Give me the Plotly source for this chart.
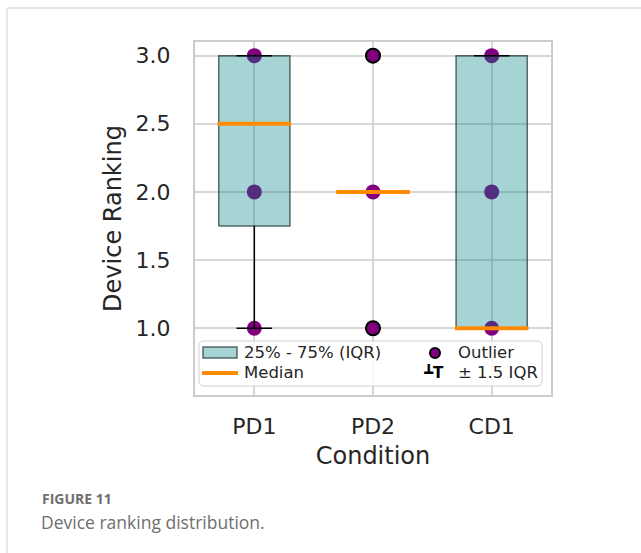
import plotly.graph_objects as go

# data
conditions = ["PD1", "PD2", "CD1"]
q1 = [1.75, 2.0, 1.0]
medians = [2.5, 2.0, 1.0]
q3 = [3.0, 2.0, 3.0]
whisker_low = [1.0, 2.0, 1.0]
whisker_high = [3.0, 2.0, 3.0]
responses = [[1, 2, 3], [1, 2, 3], [1, 2, 3]]
outliers = [[], [1, 3], []]
y_ticks = [1.0, 1.5, 2.0, 2.5, 3.0]

# plot area in pixels
L, R, T, B = 195, 551, 42, 395
W, H = 641, 553


def px_x(x):
    return (x - L) / (R - L)


def px_y(y):
    return (B - y) / (B - T)


xs = list(range(len(conditions)))
box_w = 0.6
cap_w = 0.3
med_w = 0.62

fig = go.Figure()

# individual responses (under the boxes)
px_, py_ = [], []
for i, vals in enumerate(responses):
    for v in vals:
        px_.append(i)
        py_.append(v)
fig.add_trace(go.Scatter(x=px_, y=py_, mode="markers",
                         marker=dict(color="#800080", size=15, line=dict(width=0)),
                         showlegend=False, hoverinfo="skip"))

# IQR boxes, drawn as filled polygons so they sit above the points
for i in xs:
    if q3[i] == q1[i]:
        continue
    a, b = i - box_w / 2, i + box_w / 2
    fig.add_trace(go.Scatter(x=[a, b, b, a, a], y=[q1[i], q1[i], q3[i], q3[i], q1[i]],
                             mode="lines", fill="toself",
                             fillcolor="rgba(0,128,128,0.35)",
                             line=dict(color="rgba(40,60,60,0.75)", width=1.5),
                             showlegend=False, hoverinfo="skip"))

# whiskers
wx, wy = [], []
for i in xs:
    wx += [i, i, None, i, i, None]
    wy += [q1[i], whisker_low[i], None, q3[i], whisker_high[i], None]
fig.add_trace(go.Scatter(x=wx, y=wy, mode="lines", line=dict(color="black", width=1.5),
                         showlegend=False, hoverinfo="skip"))

# caps
cx, cy = [], []
for i in xs:
    for v in (whisker_low[i], whisker_high[i]):
        cx += [i - cap_w / 2, i + cap_w / 2, None]
        cy += [v, v, None]
fig.add_trace(go.Scatter(x=cx, y=cy, mode="lines", line=dict(color="black", width=1.5),
                         showlegend=False, hoverinfo="skip"))

# medians
mx, my = [], []
for i in xs:
    mx += [i - med_w / 2, i + med_w / 2, None]
    my += [medians[i], medians[i], None]
fig.add_trace(go.Scatter(x=mx, y=my, mode="lines", line=dict(color="#ff8c00", width=4),
                         showlegend=False, hoverinfo="skip"))

# outliers
ox, oy = [], []
for i, vals in enumerate(outliers):
    for v in vals:
        ox.append(i)
        oy.append(v)
fig.add_trace(go.Scatter(x=ox, y=oy, mode="markers",
                         marker=dict(color="#800080", size=14, line=dict(color="black", width=2)),
                         showlegend=False, hoverinfo="skip"))

# hand-made legend box
lx0, lx1, ly0, ly1 = 199, 542, 341, 386
r = 5
path = (f"M {px_x(lx0 + r)},{px_y(ly0)} L {px_x(lx1 - r)},{px_y(ly0)} "
        f"Q {px_x(lx1)},{px_y(ly0)} {px_x(lx1)},{px_y(ly0 + r)} "
        f"L {px_x(lx1)},{px_y(ly1 - r)} Q {px_x(lx1)},{px_y(ly1)} {px_x(lx1 - r)},{px_y(ly1)} "
        f"L {px_x(lx0 + r)},{px_y(ly1)} Q {px_x(lx0)},{px_y(ly1)} {px_x(lx0)},{px_y(ly1 - r)} "
        f"L {px_x(lx0)},{px_y(ly0 + r)} Q {px_x(lx0)},{px_y(ly0)} {px_x(lx0 + r)},{px_y(ly0)} Z")
shapes = [
    dict(type="path", xref="paper", yref="paper", path=path,
         fillcolor="rgba(255,255,255,0.85)", line=dict(color="#d0d0d0", width=1)),
    dict(type="rect", xref="paper", yref="paper",
         x0=px_x(203), x1=px_x(237), y0=px_y(347), y1=px_y(358),
         fillcolor="rgba(0,128,128,0.35)", line=dict(color="rgba(40,60,60,0.75)", width=1.5)),
    dict(type="line", xref="paper", yref="paper",
         x0=px_x(202), x1=px_x(238), y0=px_y(373), y1=px_y(373),
         line=dict(color="#ff8c00", width=4)),
    dict(type="circle", xref="paper", yref="paper",
         x0=px_x(430), x1=px_x(440), y0=px_y(348), y1=px_y(358),
         fillcolor="#800080", line=dict(color="black", width=2)),
    # card border
    dict(type="line", xref="paper", yref="paper",
         x0=px_x(7), x1=px_x(W), y0=px_y(8), y1=px_y(8),
         line=dict(color="#cfcfcf", width=1)),
    dict(type="line", xref="paper", yref="paper",
         x0=px_x(7), x1=px_x(7), y0=px_y(8), y1=px_y(H),
         line=dict(color="#cfcfcf", width=1)),
]

leg_font = dict(family="DejaVu Sans", size=16.5, color="#262626")
annotations = [
    dict(text="25% - 75% (IQR)", x=px_x(242), y=px_y(352.5)),
    dict(text="Median", x=px_x(242), y=px_y(372.5)),
    dict(text="Outlier", x=px_x(456), y=px_y(352.5)),
    dict(text="± 1.5 IQR", x=px_x(456), y=px_y(372.5)),
]
annotations = [dict(a, xref="paper", yref="paper", xanchor="left", yanchor="middle",
                    showarrow=False, font=leg_font) for a in annotations]
annotations.append(dict(text="<b>┻T</b>", x=px_x(446), y=px_y(372.5), xref="paper", yref="paper",
                        xanchor="right", yanchor="middle", showarrow=False,
                        font=dict(family="DejaVu Sans", size=15, color="black")))
# caption
annotations.append(dict(text="<b>FIGURE 11</b>", x=px_x(40), y=px_y(499), xref="paper", yref="paper",
                        xanchor="left", yanchor="middle", showarrow=False,
                        font=dict(family="Open Sans", size=14, color="#6e6e6e")))
annotations.append(dict(text="Device ranking distribution.", x=px_x(39), y=px_y(522),
                        xref="paper", yref="paper", xanchor="left", yanchor="middle",
                        showarrow=False, font=dict(family="Open Sans", size=17.5, color="#6e6e6e")))

fig.update_layout(
    width=W, height=H,
    margin=dict(l=L, r=W - R, t=T, b=H - B, pad=0),
    paper_bgcolor="white", plot_bgcolor="white",
    font=dict(family="DejaVu Sans", color="#262626"),
    showlegend=False,
    shapes=shapes,
    annotations=annotations,
    xaxis=dict(range=[-0.5, 2.5], tickvals=xs, ticktext=conditions,
               showgrid=True, gridcolor="#d6d6d6", gridwidth=1.5, zeroline=False,
               showline=True, linecolor="#cccccc", linewidth=2, mirror=True,
               ticks="", tickfont=dict(size=22), ticklabelstandoff=11,
               title=dict(text="Condition", font=dict(size=24), standoff=9)),
    yaxis=dict(range=[0.51, 3.1], tickvals=y_ticks, ticktext=[f"{v:.1f}" for v in y_ticks],
               showgrid=True, gridcolor="#d6d6d6", gridwidth=1.5, zeroline=False,
               showline=True, linecolor="#cccccc", linewidth=2, mirror=True,
               ticks="", tickfont=dict(size=22), ticklabelstandoff=18,
               title=dict(text="Device Ranking", font=dict(size=24), standoff=7)),
)

fig.write_html("out.html", post_script="document.body.style.margin='0';",
               config={"displayModeBar": False})
